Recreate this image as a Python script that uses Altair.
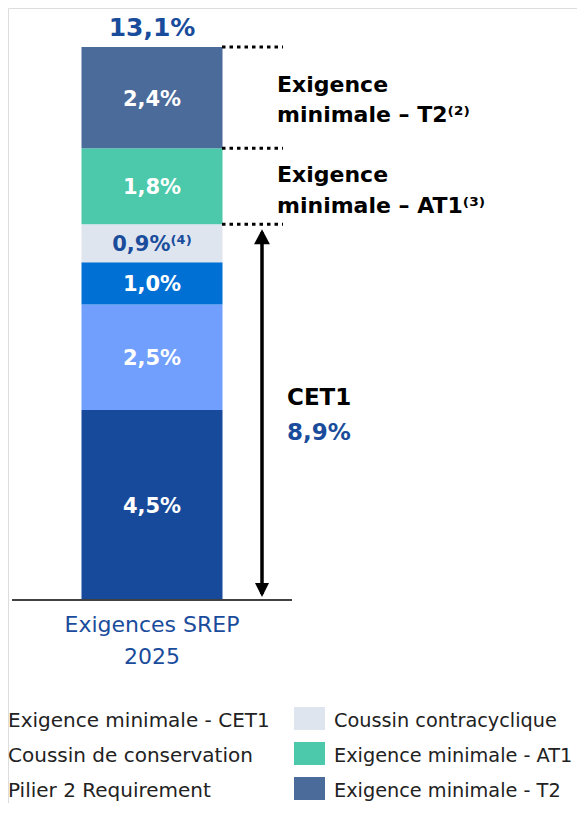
import altair as alt
import pandas as pd

# ---- data ----
categories = ["Exigence minimale - CET1", "Coussin de conservation", "Pilier 2 Requirement",
              "Coussin contracyclique", "Exigence minimale - AT1", "Exigence minimale - T2"]
values = [4.5, 2.5, 1.0, 0.9, 1.8, 2.4]
colors = ["#184a9b", "#709ffd", "#0070d5", "#dfe5ef", "#4bc9aa", "#4b6b9b"]
label_suffix = ["", "", "", "⁽⁴⁾", "", ""]
label_colors = ["white", "white", "white", "#1a4c9c", "white", "white"]
bar_category = "Exigences SREP 2025"
axis_lines = ["Exigences SREP", "2025"]
legend_left = categories[:3]
legend_right = categories[3:]
legend_right_colors = colors[3:]

BLUE = "#1a4c9c"
FONT = "DejaVu Sans"


def fmt(v):
    return f"{v:.1f}".replace(".", ",") + "%"


starts, ends = [], []
acc = 0.0
for v in values:
    starts.append(acc)
    acc = round(acc + v, 4)
    ends.append(acc)
total = acc
cet1_total = ends[3]

df = pd.DataFrame({
    "cat": [bar_category] * len(values),
    "name": categories,
    "start": starts,
    "end": ends,
    "mid": [(s + e) / 2 for s, e in zip(starts, ends)],
    "label": [fmt(v) + s for v, s in zip(values, label_suffix)],
    "lcolor": label_colors,
})

yscale = alt.Scale(domain=[0, total], range=[592, 39], nice=False, zero=False)
xscale = alt.Scale(domain=[bar_category], range=[4, 284])
X = alt.X("cat:N", scale=xscale, axis=None)

bars = alt.Chart(df).mark_bar(width=141).encode(
    x=X,
    y=alt.Y("start:Q", scale=yscale, axis=None),
    y2="end:Q",
    color=alt.Color("name:N", scale=alt.Scale(domain=categories, range=colors), legend=None),
)

seg_labels = alt.Chart(df).mark_text(font=FONT, fontSize=21, fontWeight="bold",
                                     baseline="middle", dy=2).encode(
    x=X,
    y=alt.Y("mid:Q", scale=yscale),
    text="label:N",
    color=alt.Color("lcolor:N", scale=None),
)

tot_df = pd.DataFrame({"cat": [bar_category], "v": [total], "t": [fmt(total)]})
total_label = alt.Chart(tot_df).mark_text(font=FONT, fontSize=25, fontWeight="bold",
                                          baseline="alphabetic", dy=-11, color=BLUE).encode(
    x=X, y=alt.Y("v:Q", scale=yscale), text="t:N")

base_df = pd.DataFrame({"v": [0.0]})
baseline = alt.Chart(base_df).mark_rule(color="#404040", strokeWidth=2).encode(
    x=alt.value(4), x2=alt.value(284), y=alt.Y("v:Q", scale=yscale))

dots_df = pd.DataFrame({"b": [ends[3], ends[4], ends[5]]})
dots = alt.Chart(dots_df).mark_rule(color="black", strokeWidth=3, strokeDash=[3.5, 4]).encode(
    x=alt.value(214), x2=alt.value(275), y=alt.Y("b:Q", scale=yscale))

arrow_df = pd.DataFrame({"a": [0.0], "b": [cet1_total]})
arrow_line = alt.Chart(arrow_df).mark_rule(color="black", strokeWidth=3.5, y2Offset=8, yOffset=-6).encode(
    x=alt.value(254), y=alt.Y("a:Q", scale=yscale), y2="b:Q")
arrow_up = alt.Chart(arrow_df).mark_point(shape="M0,0L0.53,1L-0.53,1Z", size=900, filled=True,
                                          color="black", opacity=1, yOffset=5).encode(
    x=alt.value(254), y=alt.Y("b:Q", scale=yscale))
arrow_down = alt.Chart(arrow_df).mark_point(shape="M0,0L0.5,-1L-0.5,-1Z", size=784, filled=True,
                                            color="black", opacity=1, yOffset=-3).encode(
    x=alt.value(254), y=alt.Y("a:Q", scale=yscale))

layers = [bars, seg_labels, total_label, dots, arrow_line, arrow_up, arrow_down, baseline]


def txt(s, x, y, size, weight="normal", color="black", align="left"):
    return alt.Chart(pd.DataFrame({"t": [s]})).mark_text(
        font=FONT, fontSize=size, fontWeight=weight, color=color, align=align,
        baseline="alphabetic").encode(x=alt.value(x), y=alt.value(y), text="t:N")


# right-side annotations
layers += [
    txt("Exigence", 269, 84, 22, "bold"),
    txt("minimale – T2⁽²⁾", 269, 114, 22, "bold"),
    txt("Exigence", 269, 174, 22, "bold"),
    txt("minimale – AT1⁽³⁾", 269, 205, 22, "bold"),
    txt("CET1", 279, 397, 23, "bold"),
    txt(fmt(cet1_total), 279, 432, 23, "bold", BLUE),
]

# category label under the bar
for i, line in enumerate(axis_lines):
    layers.append(alt.Chart(pd.DataFrame({"cat": [bar_category], "t": [line]})).mark_text(
        font=FONT, fontSize=22, color=BLUE, baseline="alphabetic", dy=624 + i * 32 - 400).encode(
        x=X, y=alt.value(400), text="t:N"))

# legend
ROW0, STEP = 719, 35
for i, name in enumerate(legend_left):
    layers.append(txt(name, 0, ROW0 + i * STEP, 20, color="#222222"))
for i, (name, col) in enumerate(zip(legend_right, legend_right_colors)):
    layers.append(alt.Chart(pd.DataFrame({"c": [col]})).mark_rect(color=col).encode(
        x=alt.value(286), x2=alt.value(317),
        y=alt.value(ROW0 - 20 + i * STEP), y2=alt.value(ROW0 + 3 + i * STEP)))
    layers.append(txt(name, 326, ROW0 + i * STEP, 19.3, color="#222222"))

chart = alt.layer(*layers).properties(
    width=569, height=795, padding=0, autosize=alt.AutoSizeParams(type="none")
).configure_view(stroke=None).configure(font=FONT)

chart.save("out.html", embed_options={"renderer": "svg", "actions": False})
